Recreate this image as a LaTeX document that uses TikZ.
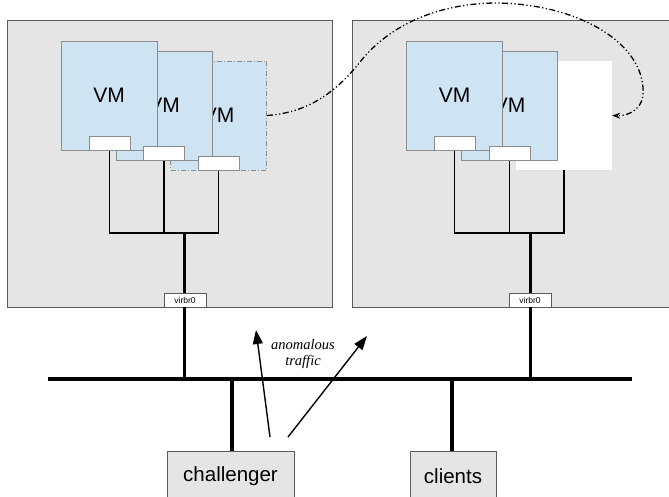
\documentclass[tikz,border=0pt]{standalone}
\usepackage{fontspec}
\setmainfont{Liberation Sans}
\newfontfamily\trafficfont{Liberation Serif}
\usetikzlibrary{arrows.meta}
\definecolor{hostgray}{HTML}{E5E5E5}
\definecolor{hostedge}{HTML}{5A5A5A}
\definecolor{vmblue}{HTML}{CFE4F2}
\definecolor{vmedge}{HTML}{8C8C8C}
\tikzset{
  host/.style={draw=hostedge, fill=hostgray, line width=1pt},
  vmbox/.style={draw=vmedge, fill=vmblue, line width=1pt, minimum width=96pt, minimum height=109pt, inner sep=0pt, font=\fontsize{21}{24}\selectfont},
  vmghost/.style={vmbox, dash pattern=on 5pt off 2pt on 1pt off 2pt},
  emptyslot/.style={draw=none, fill=white, minimum width=96pt, minimum height=109pt, inner sep=0pt},
  port/.style={draw=vmedge, fill=white, line width=1pt, minimum width=41pt, minimum height=14pt, inner sep=0pt},
  bridge/.style={draw=hostedge, fill=white, line width=0.8pt, minimum width=42pt, minimum height=14pt, inner sep=0pt, font=\fontsize{8.5}{10}\selectfont},
  wire/.style={line width=1.5pt, black},
  trunk/.style={line width=3pt, black},
  busline/.style={line width=4pt, black},
  client/.style={draw=hostedge, fill=hostgray, line width=0.9pt, inner sep=0pt, font=\fontsize{20.5}{24}\selectfont},
  migrate/.style={line width=1.3pt, dash pattern=on 6pt off 2.5pt on 1.2pt off 2.5pt on 1.2pt off 2.5pt, -{Stealth[length=8pt,width=6pt]}},
  traffic/.style={line width=1.4pt, -{Triangle[length=14pt,width=10pt]}},
}
\begin{document}
\begin{tikzpicture}[x=1pt,y=-1pt]
\useasboundingbox (0,0) rectangle (669,496);
% hosts
\node[host, minimum width=325pt, minimum height=287pt, inner sep=0pt, anchor=north west] (hostL) at (7,20) {};
\node[host, minimum width=320pt, minimum height=287pt, inner sep=0pt, anchor=north west] (hostR) at (352,20) {};
% left host VMs (back to front)
\node[vmghost] (lvm3) at (218.5,115.5) {VM};
\node[vmbox] (lvm2) at (164,105.5) {VM};
\node[vmbox] (lvm1) at (109,95.5) {VM};
\node[port] (lp1) at (109.5,143) {};
\node[port] (lp2) at (164,153) {};
\node[port] (lp3) at (218.5,163.5) {};
% right host VMs
\node[emptyslot] (rvm3) at (564,115.5) {};
\node[vmbox] (rvm2) at (509.5,105.5) {VM};
\node[vmbox] (rvm1) at (454.5,95.5) {VM};
\node[port] (rp1) at (454.5,143) {};
\node[port] (rp2) at (509.5,153) {};
% bridges
\node[bridge] (lbr) at (185,300) {virbr0};
\node[bridge] (rbr) at (530,300) {virbr0};
% junctions
\coordinate (jl) at (184,233);
\coordinate (jr) at (530,233);
% left wiring
\draw[wire] (lp1.south) |- (jl);
\draw[wire] (lp3.south) |- (jl);
\draw[wire] (lp2.south) -- (lp2.south |- jl);
\draw[trunk] (jl) -- (jl |- lbr.north);
% right wiring
\draw[wire] (rp1.south) |- (jr);
\draw[wire] (rvm3.south) |- (jr);
\draw[wire] (rp2.south) -- (rp2.south |- jr);
\draw[trunk] (jr) -- (jr |- rbr.north);
% bus
\coordinate (busL) at (48,379);
\coordinate (busR) at (632,379);
\coordinate (dropC) at (232,379);
\coordinate (dropK) at (452,379);
\draw[busline] (busL) -- (busR);
\draw[trunk] (lbr.south -| jl) -- (jl |- busL);
\draw[trunk] (rbr.south -| jr) -- (jr |- busL);
% clients
\node[client, minimum width=127pt, minimum height=60pt, anchor=north west] (chal) at (167,451) {};
\node[font=\fontsize{20.5}{24}\selectfont] (chaltext) at (230.5,476) {challenger};
\node[client, minimum width=86pt, minimum height=60pt, anchor=north west] (cli) at (410,451) {};
\node[font=\fontsize{20.5}{24}\selectfont] (clitext) at (453,476) {clients};
\draw[line width=3.5pt] (dropC) -- (dropC |- chal.north);
\draw[line width=3.5pt] (dropK) -- (dropK |- cli.north);
% anomalous traffic
\coordinate (a1s) at (270,437);
\coordinate (a1e) at (256,330);
\coordinate (a2s) at (288,437);
\coordinate (a2e) at (367,336);
\draw[traffic] (a1s) -- (a1e);
\draw[traffic] (a2s) -- (a2e);
\node[font=\trafficfont\itshape\fontsize{14.5}{15.5}\selectfont, align=center, inner sep=0pt] (lbl) at (303,354) {anomalous\\traffic};
% migration curve
\draw[migrate] (lvm3.east) .. controls (300,113) and (330,100) .. (360,62)
  .. controls (395,18) and (450,3) .. (497,3)
  .. controls (575,4) and (640,40) .. (643,88)
  .. controls (645,108) and (630,116) .. (rvm3.east);
\end{tikzpicture}
\end{document}
